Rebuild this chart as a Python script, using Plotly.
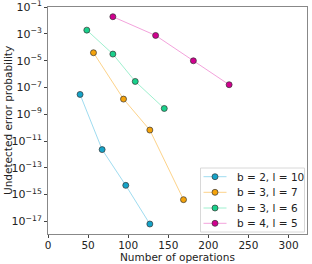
import plotly.graph_objects as go

names = ["b = 2, l = 10", "b = 3, l = 7", "b = 3, l = 6", "b = 4, l = 5"]
x_b2l10 = [40, 67.5, 97, 127]
y_b2l10 = [3.0e-8, 2.3e-12, 4.9e-15, 6.4e-18]
x_b3l7 = [56.7, 94.2, 127, 169]
y_b3l7 = [3.9e-5, 1.35e-8, 6.6e-11, 4.2e-16]
x_b3l6 = [48.4, 80.9, 108.8, 145]
y_b3l6 = [1.9e-3, 3.1e-5, 2.8e-7, 2.7e-9]
x_b4l5 = [80.9, 134.2, 181.3, 225.9]
y_b4l5 = [1.9e-2, 7.6e-4, 9.8e-6, 1.6e-7]

xs = [x_b2l10, x_b3l7, x_b3l6, x_b4l5]
ys = [y_b2l10, y_b3l7, y_b3l6, y_b4l5]
marker_colors = ["#15a3c8", "#f5a30a", "#19d08b", "#d1008f"]
line_colors = ["#9fdcf0", "#fdd38a", "#9ff0cf", "#f3a3dc"]

ytick_exps = [-1, -3, -5, -7, -9, -11, -13, -15, -17]
xtick_vals = [0, 50, 100, 150, 200, 250, 300]

W, H = 312, 264
ML, MR, MT, MB = 48, 5, 7, 30
PW, PH = W - ML - MR, H - MT - MB


def px(x):
    return (x - ML) / PW


def py(y):
    return (H - MB - y) / PH


fig = go.Figure()
for n, x, y, mc, lc in zip(names, xs, ys, marker_colors, line_colors):
    fig.add_trace(go.Scatter(
        x=x, y=y, name=n, mode="lines+markers",
        line=dict(color=lc, width=1),
        marker=dict(color=mc, size=6, line=dict(color="#333333", width=0.7)),
    ))

shapes = [dict(type="rect", xref="paper", yref="paper",
               x0=px(200.5), x1=px(304.5), y0=py(232), y1=py(168),
               line=dict(color="#d8d8d8", width=1), fillcolor="rgba(255,255,255,0.85)",
               layer="above")]
annotations = []
row_y = [176.7, 192.3, 208.0, 223.3]
for n, mc, lc, ry in zip(names, marker_colors, line_colors, row_y):
    shapes.append(dict(type="line", xref="paper", yref="paper",
                       x0=px(203.5), x1=px(226.5), y0=py(ry), y1=py(ry),
                       line=dict(color=lc, width=1), layer="above"))
    shapes.append(dict(type="circle", xref="paper", yref="paper",
                       xsizemode="pixel", ysizemode="pixel",
                       xanchor=px(215), yanchor=py(ry),
                       x0=-3, x1=3, y0=-3, y1=3,
                       fillcolor=mc, line=dict(color="#333333", width=0.7), layer="above"))
    annotations.append(dict(text=n, xref="paper", yref="paper", x=px(234.5), y=py(ry),
                            xanchor="left", yanchor="middle", showarrow=False,
                            font=dict(size=10.5)))

annotations.append(dict(text="Number of operations", xref="paper", yref="paper",
                        x=px(177), y=py(256.5), xanchor="center", yanchor="middle",
                        showarrow=False, font=dict(size=10.5)))
annotations.append(dict(text="Undetected error probability", xref="paper", yref="paper",
                        x=px(8), y=py(121), xanchor="center", yanchor="middle",
                        textangle=-90, showarrow=False, font=dict(size=10.5)))

fig.update_layout(
    width=W, height=H,
    margin=dict(l=ML, r=MR, t=MT, b=MB),
    paper_bgcolor="white", plot_bgcolor="white",
    font=dict(family="DejaVu Sans", size=10.5, color="#222222"),
    showlegend=False,
    shapes=shapes,
    annotations=annotations,
)
fig.update_xaxes(
    range=[0, 323], tickvals=xtick_vals, ticks="outside", ticklen=3,
    showline=True, linecolor="#888888", linewidth=1, mirror=True,
    showgrid=False, zeroline=False, automargin=False,
    tickfont=dict(size=10.5), ticklabeloverflow="allow", ticklabelstandoff=-2,
)
fig.update_yaxes(
    type="log", range=[-17.94, -0.995],
    tickvals=[10 ** e for e in ytick_exps],
    ticktext=["10<sup>\u2212%d</sup>" % (-e) for e in ytick_exps],
    ticks="outside", ticklen=3,
    showline=True, linecolor="#888888", linewidth=1, mirror=True,
    showgrid=False, zeroline=False, automargin=False,
    tickfont=dict(size=11), ticklabeloverflow="allow",
)

fig.write_html("out.html", config={"displayModeBar": False},
               post_script="document.body.style.margin='0';document.body.style.overflow='hidden';")
